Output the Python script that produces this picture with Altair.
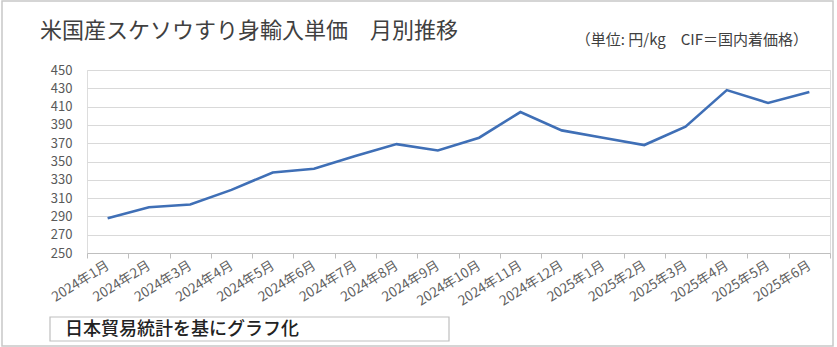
import altair as alt
import pandas as pd

months = ["2024年1月", "2024年2月", "2024年3月", "2024年4月", "2024年5月", "2024年6月",
          "2024年7月", "2024年8月", "2024年9月", "2024年10月", "2024年11月", "2024年12月",
          "2025年1月", "2025年2月", "2025年3月", "2025年4月", "2025年5月", "2025年6月"]
prices = [288, 300, 303, 319, 338, 342, 356, 369, 362, 376, 404, 384,
          376, 368, 388, 428, 414, 426]
y_ticks = [250, 270, 290, 310, 330, 350, 370, 390, 410, 430, 450]

title_text = "米国産スケソウすり身輸入単価　月別推移"
unit_text = "（単位: 円/kg　CIF＝国内着価格）"
source_text = "日本貿易統計を基にグラフ化"

FONT = "Noto Sans CJK JP"

df = pd.DataFrame({"month": months, "price": prices})
one = pd.DataFrame({"a": [0]})

line = alt.Chart(df).mark_line(color="#3F6FB6", strokeWidth=2.6).encode(
    x=alt.X("month:N", sort=months, bandPosition=0.5,
            scale=alt.Scale(type="band", paddingInner=0, paddingOuter=0),
            axis=alt.Axis(title=None, labelAngle=-32, labelAlign="right",
                          labelBaseline="middle", labelFontSize=13.5, labelColor="#606060",
                          labelPadding=6, tickBand="extent", tickColor="#BFBFBF",
                          tickSize=5, domainColor="#BFBFBF", grid=False,
                          labelFont=FONT)),
    y=alt.Y("price:Q", scale=alt.Scale(domain=[250, 450], nice=False, zero=False),
            axis=alt.Axis(title=None, values=y_ticks, domain=False, ticks=False,
                          gridColor="#D9D9D9", gridWidth=1, labelFontSize=13,
                          labelColor="#595959", labelPadding=15, labelFont=FONT)),
)

frame = alt.Chart(one).mark_rect(fill=None, stroke="#C8C8C8", strokeWidth=1.5).encode(
    x=alt.value(-85), x2=alt.value(746), y=alt.value(-69), y2=alt.value(276))

title = alt.Chart(one).mark_text(align="left", baseline="alphabetic", fontSize=22,
                                 color="#404040", font=FONT).encode(
    x=alt.value(-47), y=alt.value(-32), text=alt.value(title_text))

unit = alt.Chart(one).mark_text(align="right", baseline="middle", fontSize=15,
                                color="#404040", font=FONT).encode(
    x=alt.value(721), y=alt.value(-30), text=alt.value(unit_text))

box = alt.Chart(one).mark_rect(fill="white", stroke="#BFBFBF", strokeWidth=1.2).encode(
    x=alt.value(-37), x2=alt.value(362), y=alt.value(247), y2=alt.value(271))

source = alt.Chart(one).mark_text(align="left", baseline="middle", fontSize=18,
                                  color="#222222", font=FONT, fontWeight=500).encode(
    x=alt.value(-22), y=alt.value(260), text=alt.value(source_text))

chart = alt.layer(frame, line, title, unit, box, source).properties(
    width=743, height=183,
    autosize=alt.AutoSizeParams(type="none"),
    padding={"left": 87, "top": 70, "right": 7, "bottom": 94},
).configure_view(stroke=None).configure(background="white")

chart.save("out.html", embed_options={"renderer": "svg", "actions": False})
